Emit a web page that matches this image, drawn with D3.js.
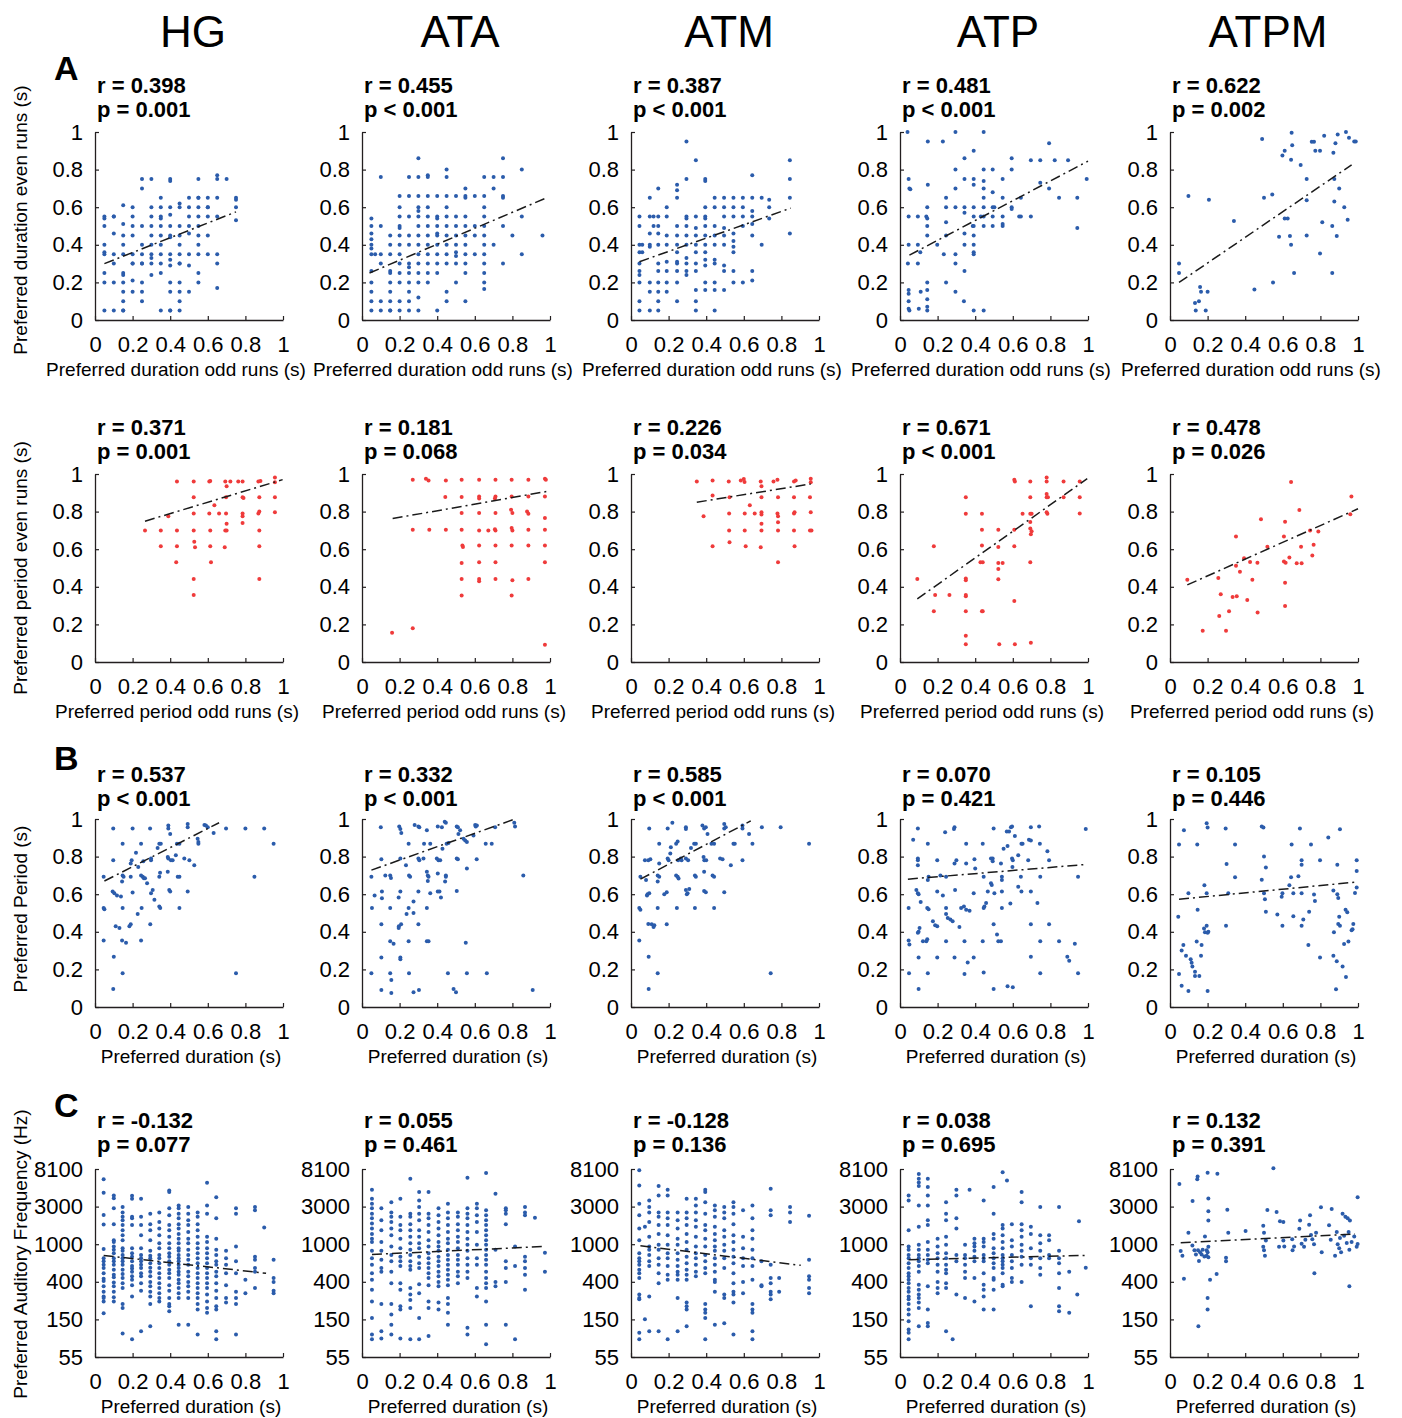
<!DOCTYPE html>
<html>
<head>
<meta charset="utf-8">
<script src="https://cdn.jsdelivr.net/npm/d3@7"></script>
<style>
body { margin: 0; background: #fff; }
text { font-family: Helvetica, Arial, "Liberation Sans", sans-serif; }
</style>
</head>
<body>
<div id="chart"></div>
<script>

/* * * * * * * * * * * * * *
*       Labels / ticks      *
* * * * * * * * * * * * * */

const areas = ["HG", "ATA", "ATM", "ATP", "ATPM"];
const unitTicks = [0, 0.2, 0.4, 0.6, 0.8, 1];
const unitLabels = ["0", "0.2", "0.4", "0.6", "0.8", "1"];
const freqTicks = [55, 149.5, 406.4, 1104.7, 3003.0, 8162.8];
const freqLabels = ["55", "150", "400", "1000", "3000", "8100"];

const rDur = ["0.398", "0.455", "0.387", "0.481", "0.622"];
const pDur = ["= 0.001", "< 0.001", "< 0.001", "< 0.001", "= 0.002"];
const rPer = ["0.371", "0.181", "0.226", "0.671", "0.478"];
const pPer = ["= 0.001", "= 0.068", "= 0.034", "< 0.001", "= 0.026"];
const rPd = ["0.537", "0.332", "0.585", "0.070", "0.105"];
const pPd = ["< 0.001", "< 0.001", "< 0.001", "= 0.421", "= 0.446"];
const rFreq = ["-0.132", "0.055", "-0.128", "0.038", "0.132"];
const pFreq = ["= 0.077", "= 0.461", "= 0.136", "= 0.695", "= 0.391"];

// regression lines: [x start, y start, x end, y end]
const fitDur = [[0.05,0.30,0.75,0.575],[0.04,0.25,0.97,0.645],[0.045,0.31,0.85,0.595],[0.05,0.345,1.0,0.845],[0.048,0.20,0.966,0.825]];
const fitPer = [[0.266,0.749,0.998,0.97],[0.163,0.763,1.0,0.91],[0.35,0.85,0.956,0.947],[0.092,0.336,0.996,0.975],[0.092,0.41,1.0,0.815]];
const fitPd = [[0.05,0.67,0.66,0.98],[0.05,0.728,0.814,1.0],[0.05,0.68,0.637,0.99],[0.042,0.68,0.988,0.758],[0.048,0.573,0.984,0.664]];
const fitFreq = [[0.046,820,0.91,510],[0.053,840,0.973,1040],[0.05,1060,0.903,630],[0.046,730,0.988,820],[0.057,1150,0.984,1450]];

/* * * * * * * * * * * * * *
*   Row A1: duration        *
* * * * * * * * * * * * * */

// columns: [x, [y values]]
const durHG = [
  [0.05,[0.55,0.54,0.5,0.4,0.36,0.35,0.25,0.2,0.05]],
  [0.1,[0.55,0.55,0.46,0.35,0.3,0.2,0.05]],
  [0.15,[0.61,0.51,0.45,0.4,0.35,0.25,0.24,0.2,0.15,0.1,0.05,0.05]],
  [0.2,[0.6,0.55,0.5,0.45,0.35,0.3,0.3,0.21,0.15]],
  [0.25,[0.75,0.7,0.5,0.4,0.35,0.3,0.3,0.2,0.15,0.1]],
  [0.3,[0.75,0.6,0.55,0.5,0.45,0.4,0.35,0.33,0.3,0.24]],
  [0.35,[0.65,0.6,0.55,0.54,0.5,0.45,0.4,0.35,0.3,0.25,0.05]],
  [0.4,[0.75,0.74,0.6,0.56,0.5,0.45,0.44,0.35,0.32,0.29,0.2,0.15,0.05,0.05]],
  [0.45,[0.62,0.6,0.5,0.45,0.4,0.35,0.3,0.3,0.2,0.15,0.1,0.05]],
  [0.5,[0.65,0.6,0.55,0.5,0.46,0.35,0.29,0.15]],
  [0.55,[0.75,0.65,0.65,0.6,0.55,0.5,0.45,0.4,0.35,0.25,0.2]],
  [0.6,[0.65,0.6,0.6,0.55,0.45,0.35]],
  [0.65,[0.77,0.75,0.65,0.55,0.35,0.3,0.17]],
  [0.7,[0.75]],
  [0.75,[0.65,0.64,0.6,0.53]]
];
const durATA = [
  [0.05,[0.54,0.5,0.46,0.43,0.4,0.38,0.35,0.26,0.2,0.15,0.1,0.05]],
  [0.07,[0.35]],
  [0.1,[0.76,0.5,0.35,0.3,0.1,0.05]],
  [0.15,[0.45,0.4,0.35,0.26,0.25,0.2,0.15,0.1,0.05,0.05]],
  [0.2,[0.66,0.6,0.55,0.5,0.49,0.45,0.4,0.35,0.3,0.25,0.2,0.1,0.05]],
  [0.25,[0.76,0.66,0.55,0.45,0.4,0.3,0.28,0.25,0.2,0.15,0.1,0.05]],
  [0.3,[0.86,0.76,0.66,0.6,0.58,0.55,0.5,0.45,0.4,0.35,0.3,0.25,0.2,0.12,0.05]],
  [0.35,[0.77,0.76,0.66,0.6,0.55,0.5,0.45,0.4,0.35,0.3,0.25,0.2]],
  [0.4,[0.66,0.55,0.54,0.5,0.46,0.45,0.4,0.35,0.3,0.25,0.05]],
  [0.45,[0.8,0.76,0.66,0.6,0.55,0.5,0.45,0.4,0.35,0.3,0.15,0.1]],
  [0.5,[0.66,0.55,0.5,0.45,0.4,0.36,0.34,0.3,0.2]],
  [0.55,[0.7,0.66,0.65,0.55,0.5,0.45,0.4,0.35,0.3,0.25,0.1]],
  [0.6,[0.66,0.5,0.45,0.35]],
  [0.65,[0.76,0.66,0.6,0.55,0.5,0.45,0.4,0.35,0.3,0.25,0.2,0.165]],
  [0.7,[0.76,0.7,0.4]],
  [0.75,[0.86,0.76,0.66,0.65,0.5,0.3]],
  [0.8,[0.45]],
  [0.85,[0.8,0.55,0.35]],
  [0.96,[0.45]]
];
const durATM = [
  [0.045,[0.55,0.5,0.4,0.36,0.3,0.26,0.24,0.2,0.1,0.05]],
  [0.06,[0.4,0.36]],
  [0.1,[0.65,0.55,0.46,0.4,0.39,0.2,0.15,0.05]],
  [0.12,[0.55,0.5]],
  [0.145,[0.7,0.55,0.5,0.46,0.4,0.3,0.26,0.2,0.15,0.1,0.05]],
  [0.19,[0.6,0.55,0.45,0.4,0.31,0.26,0.2,0.15]],
  [0.245,[0.72,0.69,0.65,0.5,0.45,0.4,0.36,0.31,0.3,0.26,0.2,0.1]],
  [0.295,[0.95,0.75,0.55,0.54,0.5,0.45,0.4,0.33,0.3,0.26,0.24]],
  [0.345,[0.85,0.55,0.49,0.45,0.4,0.36,0.3,0.26,0.16,0.1,0.05]],
  [0.395,[0.75,0.74,0.6,0.55,0.54,0.5,0.45,0.4,0.36,0.32,0.29,0.2,0.16]],
  [0.445,[0.65,0.6,0.5,0.45,0.4,0.32,0.3,0.2,0.16,0.05]],
  [0.495,[0.65,0.6,0.55,0.49,0.45,0.4,0.29,0.26,0.16]],
  [0.545,[0.65,0.6,0.55,0.46,0.42,0.39,0.36,0.26,0.2]],
  [0.595,[0.65,0.6,0.55,0.5,0.2]],
  [0.645,[0.77,0.65,0.58,0.55,0.51,0.45,0.26,0.21]],
  [0.695,[0.65,0.4]],
  [0.735,[0.64,0.6,0.54]],
  [0.845,[0.85,0.75,0.65,0.46]]
];
// points: [x, y]
const durATP = [
  [0.04,1.0],[0.046,0.75],[0.05,0.7],[0.055,0.695],[0.046,0.55],[0.046,0.4],[0.042,0.3],[0.046,0.16],[0.046,0.14],[0.046,0.1],[0.046,0.06],[0.05,0.05],
  [0.095,0.55],[0.095,0.4],[0.095,0.3],[0.1,0.06],[0.108,0.36],[0.11,0.15],
  [0.148,0.95],[0.148,0.72],[0.145,0.6],[0.14,0.55],[0.145,0.54],[0.145,0.5],[0.145,0.45],[0.145,0.2],[0.145,0.16],[0.145,0.11],[0.145,0.07],[0.145,0.05],
  [0.198,0.4],[0.228,0.95],[0.245,0.65],[0.245,0.6],[0.245,0.2],[0.245,0.52],[0.245,0.45],[0.233,0.35],
  [0.295,1.0],[0.295,0.8],[0.295,0.7],[0.295,0.6],[0.295,0.35],[0.295,0.3],[0.295,0.15],
  [0.343,0.86],[0.343,0.75],[0.343,0.6],[0.343,0.57],[0.343,0.46],[0.343,0.4],[0.343,0.26],[0.34,0.1],
  [0.392,0.9],[0.392,0.75],[0.392,0.72],[0.392,0.6],[0.392,0.55],[0.392,0.5],[0.392,0.45],[0.392,0.4],[0.392,0.36],[0.392,0.35],[0.392,0.05],[0.387,0.5],
  [0.445,1.0],[0.445,0.8],[0.445,0.74],[0.445,0.7],[0.445,0.65],[0.445,0.6],[0.445,0.55],[0.445,0.5],[0.445,0.05],[0.43,0.55],
  [0.493,0.8],[0.493,0.68],[0.493,0.6],[0.493,0.55],[0.493,0.5],[0.502,0.6],
  [0.546,0.75],[0.546,0.65],[0.546,0.55],[0.546,0.51],[0.546,0.5],
  [0.594,0.86],[0.594,0.8],[0.594,0.6],[0.594,0.59],
  [0.643,0.65],[0.643,0.55],[0.634,0.55],
  [0.696,0.85],[0.696,0.55],[0.746,0.85],[0.746,0.73],[0.793,0.94],[0.793,0.7],[0.823,0.85],[0.846,0.65],[0.894,0.85],[0.943,0.65],[0.943,0.49],[0.993,0.75]
];
const durATPM = [
  [0.048,0.30],[0.048,0.25],[0.098,0.66],[0.133,0.09],[0.137,0.05],[0.154,0.10],[0.16,0.175],[0.165,0.15],[0.19,0.05],[0.2,0.15],[0.207,0.64],
  [0.34,0.526],[0.449,0.162],[0.49,0.963],[0.5,0.65],[0.544,0.668],[0.548,0.2],[0.58,0.443],[0.598,0.875],[0.61,0.9],[0.61,0.54],[0.626,0.54],
  [0.638,0.447],[0.644,0.852],[0.647,0.996],[0.65,0.93],[0.644,0.4],[0.66,0.25],[0.695,0.825],[0.727,0.75],[0.727,0.637],[0.727,0.45],
  [0.754,0.948],[0.766,0.948],[0.773,0.9],[0.798,0.9],[0.798,0.354],[0.81,0.52],[0.82,0.98],[0.863,0.5],[0.863,0.25],[0.869,0.89],
  [0.874,0.75],[0.874,0.63],[0.88,0.94],[0.887,0.447],[0.892,0.987],[0.9,0.70],[0.927,0.6],[0.936,1.0],[0.945,0.533],[0.952,0.97],[0.98,0.95],[0.988,0.95]
];

/* * * * * * * * * * * * * *
*   Row A2: period          *
* * * * * * * * * * * * * */

const perHG = [
  [0.266,0.70],[0.35,0.70],[0.35,0.616],[0.39,0.775],[0.436,0.96],[0.436,0.70],[0.436,0.616],[0.432,0.53],[0.525,0.96],[0.525,0.876],
  [0.525,0.79],[0.525,0.70],[0.528,0.64],[0.532,0.61],[0.525,0.442],[0.525,0.356],[0.608,0.96],[0.613,0.963],[0.608,0.79],[0.613,0.70],
  [0.613,0.616],[0.617,0.53],[0.635,0.834],[0.66,0.79],[0.693,0.96],[0.70,0.935],[0.697,0.876],[0.697,0.79],[0.70,0.736],[0.693,0.70],
  [0.70,0.70],[0.69,0.61],[0.72,0.96],[0.762,0.96],[0.785,0.96],[0.785,0.876],[0.79,0.872],[0.785,0.79],[0.785,0.775],[0.785,0.74],
  [0.869,0.96],[0.88,0.963],[0.874,0.876],[0.869,0.79],[0.874,0.80],[0.874,0.70],[0.874,0.616],[0.874,0.442],[0.957,0.982],[0.957,0.956],
  [0.957,0.876],[0.957,0.796]
];
const perATA = [
  [0.16,0.156],[0.27,0.97],[0.27,0.704],[0.27,0.18],[0.34,0.975],[0.354,0.965],[0.358,0.704],[0.446,0.966],[0.446,0.704],[0.443,0.878],
  [0.53,0.97],[0.53,0.878],[0.53,0.793],[0.53,0.704],[0.534,0.62],[0.537,0.612],[0.53,0.527],[0.53,0.442],[0.53,0.354],
  [0.623,0.97],[0.623,0.88],[0.623,0.87],[0.623,0.793],[0.623,0.70],[0.623,0.62],[0.623,0.53],[0.623,0.442],[0.623,0.43],[0.672,0.70],
  [0.71,0.97],[0.71,0.88],[0.707,0.87],[0.71,0.793],[0.71,0.70],[0.707,0.706],[0.71,0.62],[0.71,0.53],[0.71,0.442],
  [0.796,0.97],[0.796,0.88],[0.80,0.793],[0.793,0.81],[0.796,0.713],[0.80,0.70],[0.796,0.62],[0.80,0.435],[0.796,0.354],
  [0.885,0.97],[0.885,0.88],[0.878,0.80],[0.885,0.788],[0.885,0.704],[0.885,0.62],[0.885,0.442],
  [0.973,0.975],[0.978,0.97],[0.973,0.88],[0.973,0.766],[0.973,0.704],[0.973,0.62],[0.973,0.53],[0.973,0.092]
];
const perATM = [
  [0.35,0.96],[0.386,0.775],[0.434,0.965],[0.434,0.885],[0.434,0.616],[0.52,0.96],[0.524,0.876],[0.522,0.79],[0.522,0.70],[0.524,0.637],
  [0.584,0.965],[0.60,0.973],[0.604,0.957],[0.605,0.79],[0.605,0.70],[0.61,0.616],[0.632,0.834],[0.658,0.79],[0.69,0.96],[0.694,0.876],
  [0.694,0.935],[0.694,0.796],[0.694,0.784],[0.694,0.736],[0.694,0.70],[0.69,0.61],[0.758,0.96],[0.779,0.97],[0.782,0.876],[0.779,0.79],
  [0.782,0.775],[0.782,0.743],[0.782,0.70],[0.782,0.53],[0.867,0.96],[0.876,0.965],[0.867,0.876],[0.867,0.79],[0.87,0.796],[0.867,0.70],
  [0.87,0.616],[0.956,0.975],[0.956,0.956],[0.952,0.876],[0.956,0.796],[0.952,0.70],[0.96,0.70]
];
const perATP = [
  [0.092,0.442],[0.18,0.616],[0.18,0.27],[0.187,0.356],[0.263,0.356],[0.35,0.876],[0.35,0.788],[0.35,0.444],[0.35,0.435],[0.35,0.356],
  [0.35,0.35],[0.35,0.27],[0.35,0.14],[0.35,0.094],[0.436,0.788],[0.436,0.704],[0.436,0.62],[0.428,0.53],[0.44,0.53],[0.436,0.27],
  [0.44,0.27],[0.523,0.704],[0.523,0.612],[0.523,0.527],[0.546,0.527],[0.523,0.495],[0.523,0.44],[0.528,0.094],[0.608,0.97],[0.611,0.96],
  [0.608,0.704],[0.608,0.616],[0.608,0.324],[0.611,0.094],[0.652,0.788],[0.693,0.96],[0.693,0.876],[0.693,0.788],[0.70,0.788],[0.693,0.745],
  [0.693,0.71],[0.70,0.696],[0.696,0.68],[0.693,0.53],[0.696,0.103],[0.78,0.982],[0.78,0.96],[0.78,0.894],[0.78,0.876],[0.784,0.788],
  [0.78,0.796],[0.787,0.876],[0.87,0.96],[0.87,0.876],[0.956,0.96],[0.956,0.876],[0.956,0.79]
];
const perATPM = [
  [0.092,0.438],[0.174,0.166],[0.257,0.447],[0.262,0.245],[0.27,0.36],[0.298,0.166],[0.314,0.27],[0.333,0.346],[0.351,0.668],[0.351,0.512],
  [0.355,0.35],[0.372,0.48],[0.394,0.552],[0.411,0.33],[0.426,0.532],[0.438,0.438],[0.465,0.528],[0.466,0.263],[0.484,0.759],[0.518,0.613],
  [0.606,0.667],[0.612,0.746],[0.606,0.534],[0.615,0.528],[0.612,0.422],[0.612,0.298],[0.635,0.556],[0.644,0.958],[0.674,0.525],[0.688,0.808],
  [0.697,0.613],[0.70,0.525],[0.745,0.70],[0.757,0.567],[0.764,0.624],[0.789,0.694],[0.959,0.786],[0.965,0.88]
];

/* * * * * * * * * * * * * *
*   Row B: period vs dur    *
* * * * * * * * * * * * * */

const pdHG = [
  [0.046,0.693],[0.046,0.526],[0.05,0.52],[0.046,0.354],[0.097,0.95],[0.097,0.78],[0.094,0.614],[0.103,0.605],[0.1,0.267],[0.097,0.096],
  [0.117,0.593],[0.11,0.43],[0.13,0.42],[0.138,0.588],[0.147,0.868],[0.147,0.70],[0.152,0.693],[0.144,0.667],[0.147,0.526],[0.144,0.354],
  [0.147,0.18],[0.165,0.342],[0.183,0.43],[0.19,0.44],[0.195,0.78],[0.19,0.763],[0.2,0.95],[0.2,0.609],[0.19,0.693],[0.218,0.82],
  [0.227,0.495],[0.23,0.745],[0.245,0.868],[0.245,0.70],[0.254,0.693],[0.26,0.685],[0.266,0.685],[0.248,0.526],[0.245,0.354],[0.257,0.775],
  [0.277,0.658],[0.293,0.95],[0.298,0.79],[0.298,0.78],[0.298,0.605],[0.294,0.44],[0.307,0.623],[0.316,0.57],[0.333,0.846],[0.342,0.693],
  [0.342,0.868],[0.35,0.868],[0.342,0.535],[0.347,0.526],[0.346,0.714],[0.387,0.72],[0.39,0.965],[0.39,0.95],[0.4,0.92],[0.387,0.798],
  [0.39,0.79],[0.404,0.78],[0.413,0.78],[0.395,0.623],[0.4,0.614],[0.43,0.807],[0.436,0.868],[0.449,0.868],[0.44,0.693],[0.449,0.693],
  [0.449,0.526],[0.475,0.79],[0.493,0.974],[0.493,0.956],[0.502,0.78],[0.493,0.614],[0.528,0.754],[0.546,0.895],[0.55,0.877],[0.55,0.868],
  [0.582,0.968],[0.59,0.965],[0.6,0.956],[0.631,0.926],[0.697,0.95],[0.75,0.18],[0.8,0.95],[0.848,0.693],[0.9,0.95],[0.95,0.868]
];
const pdATA = [
  [0.05,0.693],[0.053,0.526],[0.067,0.593],[0.1,0.956],[0.103,0.786],[0.106,0.614],[0.106,0.579],[0.103,0.44],[0.103,0.263],[0.05,0.179],
  [0.103,0.091],[0.124,0.70],[0.15,0.70],[0.154,0.686],[0.15,0.526],[0.15,0.35],[0.168,0.337],[0.15,0.179],[0.156,0.144],[0.156,0.075],
  [0.195,0.582],[0.198,0.96],[0.204,0.947],[0.209,0.926],[0.204,0.79],[0.204,0.614],[0.196,0.43],[0.208,0.44],[0.195,0.42],[0.204,0.263],
  [0.204,0.254],[0.234,0.754],[0.237,0.495],[0.248,0.868],[0.25,0.70],[0.256,0.693],[0.248,0.526],[0.248,0.35],[0.25,0.179],[0.274,0.561],
  [0.274,0.5],[0.274,0.079],[0.28,0.968],[0.30,0.96],[0.305,0.956],[0.30,0.79],[0.305,0.78],[0.30,0.614],[0.30,0.44],[0.303,0.091],
  [0.327,0.79],[0.33,0.868],[0.345,0.72],[0.35,0.70],[0.354,0.693],[0.345,0.94],[0.345,0.526],[0.345,0.35],[0.354,0.35],[0.35,0.67],
  [0.363,0.605],[0.363,0.868],[0.403,0.96],[0.398,0.79],[0.407,0.78],[0.416,0.78],[0.403,0.71],[0.403,0.614],[0.412,0.614],[0.42,0.582],
  [0.425,0.956],[0.428,0.842],[0.44,0.986],[0.446,0.98],[0.45,0.868],[0.46,0.872],[0.446,0.70],[0.446,0.693],[0.442,0.667],[0.457,0.179],
  [0.487,0.096],[0.5,0.079],[0.504,0.96],[0.51,0.956],[0.522,0.94],[0.504,0.79],[0.51,0.786],[0.504,0.617],[0.513,0.92],[0.54,0.895],
  [0.549,0.886],[0.558,0.877],[0.558,0.737],[0.552,0.342],[0.558,0.179],[0.593,0.912],[0.602,0.968],[0.605,0.96],[0.611,0.965],[0.61,0.786],
  [0.658,0.868],[0.664,0.179],[0.69,0.868],[0.708,0.956],[0.81,0.98],[0.814,0.96],[0.858,0.70],[0.908,0.091]
];
const pdATM = [
  [0.044,0.526],[0.05,0.517],[0.044,0.354],[0.05,0.693],[0.08,0.675],[0.074,0.78],[0.092,0.78],[0.103,0.786],[0.088,0.6],[0.097,0.605],
  [0.085,0.593],[0.092,0.442],[0.11,0.44],[0.12,0.425],[0.124,0.435],[0.094,0.267],[0.094,0.096],[0.097,0.95],[0.142,0.70],[0.15,0.693],
  [0.142,0.667],[0.142,0.526],[0.142,0.18],[0.15,0.763],[0.15,0.868],[0.177,0.6],[0.19,0.44],[0.19,0.61],[0.195,0.79],[0.2,0.78],
  [0.195,0.95],[0.209,0.816],[0.22,0.98],[0.212,0.85],[0.24,0.868],[0.248,0.88],[0.24,0.70],[0.248,0.693],[0.253,0.684],[0.244,0.526],
  [0.251,0.78],[0.265,0.79],[0.269,0.78],[0.292,0.956],[0.292,0.947],[0.292,0.79],[0.304,0.78],[0.292,0.623],[0.301,0.605],[0.297,0.6],
  [0.31,0.628],[0.319,0.846],[0.336,0.868],[0.345,0.868],[0.34,0.70],[0.345,0.693],[0.34,0.526],[0.38,0.965],[0.389,0.95],[0.398,0.956],
  [0.386,0.798],[0.39,0.78],[0.4,0.78],[0.407,0.92],[0.389,0.72],[0.389,0.617],[0.398,0.61],[0.428,0.868],[0.442,0.868],[0.434,0.70],
  [0.442,0.693],[0.442,0.526],[0.474,0.79],[0.487,0.786],[0.496,0.974],[0.496,0.95],[0.504,0.956],[0.496,0.61],[0.531,0.754],[0.545,0.868],
  [0.552,0.868],[0.593,0.965],[0.593,0.95],[0.593,0.78],[0.628,0.92],[0.646,0.868],[0.696,0.956],[0.743,0.18],[0.796,0.956],[0.947,0.868]
];
const pdATP = [
  [0.046,0.354],[0.05,0.333],[0.046,0.526],[0.048,0.18],[0.095,0.95],[0.07,0.89],[0.095,0.79],[0.095,0.78],[0.095,0.754],[0.087,0.623],
  [0.095,0.605],[0.099,0.6],[0.099,0.40],[0.095,0.395],[0.104,0.42],[0.099,0.263],[0.099,0.096],[0.11,0.558],[0.122,0.35],[0.14,0.35],
  [0.145,0.36],[0.148,0.868],[0.152,0.693],[0.148,0.675],[0.145,0.526],[0.152,0.52],[0.148,0.18],[0.175,0.456],[0.187,0.435],[0.198,0.43],
  [0.198,0.78],[0.198,0.614],[0.198,0.263],[0.215,0.70],[0.228,0.593],[0.24,0.93],[0.245,0.526],[0.245,0.495],[0.245,0.35],[0.245,0.693],
  [0.254,0.474],[0.268,0.465],[0.28,0.456],[0.29,0.956],[0.287,0.947],[0.29,0.763],[0.3,0.78],[0.293,0.623],[0.29,0.263],[0.316,0.425],
  [0.325,0.526],[0.34,0.535],[0.352,0.868],[0.352,0.763],[0.343,0.35],[0.343,0.175],[0.36,0.237],[0.352,0.517],[0.37,0.512],[0.392,0.605],
  [0.396,0.786],[0.4,0.737],[0.392,0.263],[0.44,0.868],[0.445,0.693],[0.445,0.526],[0.449,0.535],[0.44,0.35],[0.445,0.184],[0.458,0.553],
  [0.467,0.614],[0.484,0.79],[0.493,0.79],[0.493,0.775],[0.484,0.658],[0.488,0.649],[0.498,0.44],[0.498,0.096],[0.498,0.95],[0.502,0.605],
  [0.516,0.386],[0.523,0.35],[0.537,0.35],[0.537,0.763],[0.542,0.693],[0.542,0.675],[0.542,0.526],[0.542,0.614],[0.551,0.842],[0.568,0.933],
  [0.572,0.856],[0.58,0.933],[0.587,0.55],[0.59,0.956],[0.596,0.96],[0.596,0.79],[0.6,0.78],[0.598,0.745],[0.572,0.11],[0.6,0.105],
  [0.611,0.91],[0.629,0.807],[0.629,0.64],[0.643,0.693],[0.646,0.868],[0.646,0.614],[0.652,0.868],[0.682,0.78],[0.686,0.89],[0.696,0.886],
  [0.696,0.956],[0.696,0.614],[0.696,0.44],[0.696,0.267],[0.731,0.553],[0.74,0.96],[0.744,0.868],[0.746,0.693],[0.746,0.35],[0.746,0.18],
  [0.784,0.828],[0.793,0.78],[0.793,0.44],[0.846,0.35],[0.89,0.267],[0.9,0.246],[0.93,0.337],[0.947,0.693],[0.947,0.18],[0.988,0.947]
];
const pdATPM = [
  [0.048,0.865],[0.074,0.94],[0.044,0.48],[0.048,0.175],[0.062,0.113],[0.062,0.30],[0.071,0.33],[0.085,0.273],[0.098,0.605],[0.098,0.085],
  [0.11,0.254],[0.115,0.235],[0.119,0.216],[0.133,0.188],[0.133,0.165],[0.142,0.348],[0.145,0.865],[0.147,0.517],[0.156,0.165],[0.165,0.273],
  [0.168,0.33],[0.183,0.648],[0.181,0.417],[0.186,0.398],[0.195,0.605],[0.195,0.977],[0.2,0.955],[0.195,0.432],[0.2,0.395],[0.204,0.40],
  [0.2,0.085],[0.296,0.95],[0.301,0.76],[0.31,0.605],[0.298,0.432],[0.346,0.865],[0.346,0.69],[0.488,0.96],[0.497,0.955],[0.5,0.80],
  [0.51,0.742],[0.488,0.677],[0.5,0.605],[0.505,0.573],[0.51,0.507],[0.571,0.492],[0.594,0.586],[0.598,0.605],[0.598,0.432],[0.635,0.648],
  [0.644,0.69],[0.647,0.865],[0.656,0.605],[0.656,0.483],[0.683,0.695],[0.691,0.95],[0.7,0.78],[0.7,0.756],[0.7,0.605],[0.7,0.432],
  [0.709,0.466],[0.736,0.33],[0.74,0.507],[0.75,0.865],[0.766,0.598],[0.771,0.564],[0.798,0.78],[0.798,0.263],[0.842,0.902],[0.869,0.62],
  [0.869,0.273],[0.872,0.398],[0.883,0.094],[0.887,0.244],[0.89,0.756],[0.89,0.60],[0.895,0.58],[0.895,0.442],[0.9,0.48],[0.904,0.945],
  [0.904,0.432],[0.918,0.216],[0.926,0.335],[0.934,0.517],[0.936,0.16],[0.943,0.504],[0.949,0.348],[0.966,0.408],[0.971,0.413],[0.975,0.442],
  [0.984,0.607],[0.993,0.724],[0.993,0.78],[0.993,0.635]
];

/* * * * * * * * * * * * * *
*   Row C: frequency (Hz)   *
* * * * * * * * * * * * * */

const freqHG = [
  [0.046,[6200,4350,2400,1870,970,760,700,640,585,510,440,415,360,312,275,265,241,176]],
  [0.1,[4040,3760,2870,1880,1230,1170,1040,950,870,760,700,640,560,490,460,400,360,312,270,241]],
  [0.147,[2980,2560,2300,2090,1840,1600,1400,1230,990,930,830,760,700,640,560,500,450,390,345,225,202,103]],
  [0.197,[4000,3690,2300,2200,1840,990,870,790,700,620,580,530,470,430,370,275,88]],
  [0.245,[3690,2300,1840,1400,990,830,760,700,640,585,510,470,390,320,109]],
  [0.294,[2480,1880,1600,1230,930,810,760,665,590,530,470,405,360,312,275,225,125]],
  [0.342,[2560,1990,1680,1400,1130,990,830,760,665,585,510,450,390,345,300,265,241]],
  [0.395,[4620,4420,2870,2390,1840,1600,1350,1130,990,870,790,700,640,560,510,450,370,320,265,225,212,186]],
  [0.445,[3100,2870,2480,2200,1880,1680,1450,1280,1130,990,930,830,760,700,640,585,530,490,430,390,345,300,265,130]],
  [0.496,[2980,2480,2090,1840,1530,1280,1130,950,830,730,640,530,470,405,360,312,265,130]],
  [0.546,[2560,2300,1880,1600,1350,1130,990,870,760,665,585,510,450,390,345,300,265,225,194,100]],
  [0.596,[5680,3100,2480,1350,1170,990,870,760,665,585,510,450,390,345,290,241,202,178]],
  [0.645,[3860,2200,1280,950,830,700,640,530,470,390,320,265,212,194,109,88]],
  [0.697,[930,760,640,510,370,265,235]],
  [0.75,[2870,2480,1040,700,510,312,265,225,100]],
  [0.8,[430,300]],
  [0.851,[2980,2720,790,730,585,530,345]],
  [0.9,[1720]],
  [0.95,[730,450,405,320,300]]
];
const freqATA = [
  [0.053,[4700,3690,3240,2870,2480,2200,1920,1680,1450,1280,1170,930,760,640,510,430,330,241,155,100,88]],
  [0.103,[2870,2090,1600,1170,930,730,585,530,225,109,90]],
  [0.156,[3380,2560,2300,1990,1680,1400,1040,830,700,530,390,225,170,130,100]],
  [0.204,[3690,2300,1840,1600,1280,990,790,700,620,390,330,212,194,90]],
  [0.257,[6290,2480,2300,1880,1600,1350,1130,950,830,700,620,560,345,290,250,202,88]],
  [0.304,[4420,3530,2980,2480,2090,1600,1350,1130,990,790,665,585,380,300,155,88]],
  [0.354,[4420,2480,2200,1840,1530,1230,1040,870,760,665,585,510,450,370,241,202,96]],
  [0.407,[2870,2390,1990,1680,1400,1170,1040,930,790,700,620,530,470,405,360,235,194]],
  [0.457,[3240,2560,2200,1840,1530,1280,1130,950,830,730,640,560,490,430,370,265,225,178,130]],
  [0.51,[2560,2300,1880,1600,1350,1170,990,830,730,640,530,470,390]],
  [0.561,[6480,2870,2480,2200,1840,1530,1280,1090,930,760,640,530,450,120,100]],
  [0.611,[3240,2870,2390,1990,1530,1090,760,640,345,275]],
  [0.66,[7350,2720,2390,2090,1840,1600,1400,1230,1090,950,830,730,640,530,450,390,345,241,130,77]],
  [0.71,[4240,950,405,360]],
  [0.765,[2870,2720,2480,1880,700,585,405,130]],
  [0.814,[1040,620,88]],
  [0.867,[2980,2560,2390,790,700,585,490,330]],
  [0.92,[2230]],
  [0.973,[880,530]]
];
const freqATM = [
  [0.044,[7900,5270,3240,2390,1680,1230,870,760,700,640,560,510,450,290,265,255,105,88]],
  [0.074,[1760,150]],
  [0.097,[3530,2980,2560,1990,1350,1040,950,830,700,620,275,109]],
  [0.147,[5180,4040,2560,2300,1840,1450,1090,950,760,640,510,390,109]],
  [0.195,[4700,4040,2560,2200,1840,1400,1090,870,760,620,490,430,88]],
  [0.248,[2560,2090,1680,1280,1090,870,730,620,530,490,430,265,109]],
  [0.296,[3690,2560,2200,1840,1450,1170,950,790,665,560,490,430,235,212,194,125]],
  [0.345,[3690,3100,2560,2090,1760,1350,1040,870,760,640,530,470]],
  [0.395,[4700,4420,3380,2480,1840,1600,1280,1040,830,700,585,510,225,194,178,155,88]],
  [0.446,[3100,2720,2300,1760,1450,1230,1040,930,760,640,530,430,405,312,130]],
  [0.496,[2980,2560,2200,1600,1350,1090,930,760,585,290,265,135]],
  [0.545,[3380,2980,2480,1880,1400,1170,950,790,665,510,390,312,290,235,100]],
  [0.596,[2720,1350,990,760,620,405,300]],
  [0.646,[3100,2200,1600,1280,950,760,620,430,225,194,178,109,88]],
  [0.694,[700,370,360]],
  [0.743,[4840,2720,2390,640,450,390,312,290,255]],
  [0.788,[450,312]],
  [0.846,[2980,2560,1990]],
  [0.947,[2350,730,470,430,345,300]]
];
const freqATP = [
  [0.046,[4040,3530,1600,1040,950,830,760,665,585,510,470,430,390,345,312,275,255,225,194,170,142,114,105,88]],
  [0.1,[7170,6290,5700,5180,3100,1760,1090,950,830,760,700,620,530,375,330,290,265,235,202,125]],
  [0.148,[6290,5060,4040,3100,2090,1840,1170,950,830,730,665,360,194,136,125]],
  [0.2,[1280,1040,870,760,640,530,405,345,300]],
  [0.245,[3380,2480,2090,1350,1090,870,760,640,560,510,390,345,109]],
  [0.28,[88]],
  [0.3,[4700,4040,2200,1680,830,700,290]],
  [0.346,[1090,830,760,640,530,450,265]],
  [0.37,[4700]],
  [0.396,[1280,1130,1040,930,790,700,450,241]],
  [0.445,[3530,1280,1170,1040,830,760,700,510,375,330,275,194]],
  [0.498,[5060,2480,1450,1280,990,870,760,665,585,450,430,330,194]],
  [0.546,[7500,1840,1680,1400,1170,990,830,760,700,640,585,510,375,360]],
  [0.569,[6000]],
  [0.595,[1880,1230,1040,830,700,585,450,405]],
  [0.647,[4420,3380,1880,1600,1350,1090,930,790,640,405]],
  [0.696,[1760,1450,990,760,640,212]],
  [0.746,[2980,1400,1130,930,760,585,490]],
  [0.793,[1400,1230,830,760]],
  [0.846,[2980,930,760,665,510,345,212,186]],
  [0.9,[530,178]],
  [0.943,[290]],
  [0.952,[2030]],
  [0.988,[590]]
];
const freqATPM = [
  [0.05,5480],[0.057,925],[0.066,815],[0.074,440],[0.098,1500],[0.12,3490],[0.119,1070],[0.13,940],[0.138,840],[0.145,6200],
  [0.147,6700],[0.149,940],[0.154,705],[0.151,125],[0.16,890],[0.168,840],[0.174,950],[0.183,795],[0.186,1360],[0.195,940],
  [0.195,815],[0.2,7380],[0.204,3720],[0.204,2650],[0.204,2070],[0.204,1030],[0.2,890],[0.204,780],[0.2,265],[0.2,194],
  [0.213,430],[0.252,7200],[0.248,500],[0.305,2770],[0.31,1500],[0.298,770],[0.298,700],[0.402,1570],[0.496,1800],[0.5,1500],
  [0.51,1220],[0.496,1030],[0.5,940],[0.505,815],[0.518,2740],[0.55,8320],[0.567,2600],[0.58,1030],[0.585,2030],[0.603,2000],
  [0.603,1220],[0.608,1040],[0.65,1260],[0.652,940],[0.66,1040],[0.692,2070],[0.688,1670],[0.7,1120],[0.713,1030],[0.72,1240],
  [0.74,1850],[0.745,2390],[0.75,1410],[0.757,1260],[0.766,1100],[0.768,510],[0.777,1500],[0.803,2950],[0.807,890],[0.846,1830],
  [0.855,1240],[0.86,2820],[0.878,815],[0.887,1530],[0.892,1100],[0.9,990],[0.904,1300],[0.91,890],[0.918,2490],[0.926,1380],
  [0.933,2300],[0.94,1140],[0.945,2200],[0.95,1530],[0.954,950],[0.954,360],[0.957,2070],[0.966,1170],[0.98,1360],[0.993,1030],
  [0.998,3860],[0.998,1110]
];


/* * * * * * * * * * * * * *
*         Layout            *
* * * * * * * * * * * * * */

const panelLeft = [95, 362, 631, 900, 1170];
const panelTop = [132, 474, 819, 1169];
const side = 188;
const blue = '#2b5cab';
const red = '#ef3b3b';
const ink = '#231f20';

function fromCols(cols) {
    return cols.flatMap(([x, ys]) => ys.map(y => [x, y]));
}

const svg = d3.select('#chart').append('svg')
    .attr('width', 1402)
    .attr('height', 1418)
    .style('background', '#fff');

const xScale = d3.scaleLinear().domain([0, 1]).range([0, side]);
const yLin = d3.scaleLinear().domain([0, 1]).range([side, 0]);
const yLog = d3.scaleLog().domain([freqTicks[0], freqTicks[5]]).range([side, 0]);

const rows = [
    {sets: [fromCols(durHG), fromCols(durATA), fromCols(durATM), durATP, durATPM], fits: fitDur, r: rDur, p: pDur,
     color: blue, y: yLin, yTicks: unitTicks, yLabels: unitLabels,
     xTitle: 'Preferred duration odd runs (s)', yTitle: 'Preferred duration even runs (s)', yTitleMid: 220,
     rOff: -39, pOff: -15, titleShift: -13},
    {sets: [perHG, perATA, perATM, perATP, perATPM], fits: fitPer, r: rPer, p: pPer,
     color: red, y: yLin, yTicks: unitTicks, yLabels: unitLabels,
     xTitle: 'Preferred period odd runs (s)', yTitle: 'Preferred period even runs (s)', yTitleMid: 568,
     rOff: -39, pOff: -15, titleShift: -12},
    {sets: [pdHG, pdATA, pdATM, pdATP, pdATPM], fits: fitPd, r: rPd, p: pPd,
     color: blue, y: yLin, yTicks: unitTicks, yLabels: unitLabels,
     xTitle: 'Preferred duration (s)', yTitle: 'Preferred Period (s)', yTitleMid: 909,
     rOff: -37, pOff: -13, titleShift: 2},
    {sets: [fromCols(freqHG), fromCols(freqATA), fromCols(freqATM), fromCols(freqATP), freqATPM], fits: fitFreq, r: rFreq, p: pFreq,
     color: blue, y: yLog, yTicks: freqTicks, yLabels: freqLabels,
     xTitle: 'Preferred duration (s)', yTitle: 'Preferred Auditory Frequency (Hz)', yTitleMid: 1254,
     rOff: -41, pOff: -17, titleShift: 2}
];

function styleAxis(a) {
    a.attr('font-family', null).attr('font-size', null);
    a.select('.domain').attr('stroke', ink).attr('stroke-width', 1.3);
    a.selectAll('.tick line').attr('stroke', ink).attr('stroke-width', 1.2);
    a.selectAll('.tick text').attr('fill', '#000').style('font-size', '22px');
}

// column titles
areas.forEach((name, i) => {
    svg.append('text')
        .attr('x', panelLeft[i] + side / 2 + 4)
        .attr('y', 47)
        .attr('text-anchor', 'middle')
        .style('font-size', '44px')
        .text(name);
});

// panel letters
[['A', 80], ['B', 770], ['C', 1117]].forEach(([l, y]) => {
    svg.append('text')
        .attr('x', 54).attr('y', y)
        .style('font-size', '34px').style('font-weight', 'bold')
        .text(l);
});

rows.forEach((row, ri) => {
    // y axis title
    svg.append('text')
        .attr('transform', `translate(27,${row.yTitleMid}) rotate(-90)`)
        .attr('text-anchor', 'middle')
        .style('font-size', '19px')
        .text(row.yTitle);

    row.sets.forEach((pts, ci) => {
        const g = svg.append('g')
            .attr('transform', `translate(${panelLeft[ci]},${panelTop[ri]})`);

        const xa = g.append('g')
            .attr('transform', `translate(0,${side})`)
            .call(d3.axisBottom(xScale).tickValues(unitTicks).tickFormat((d, i) => unitLabels[i])
                .tickSizeInner(-4).tickSizeOuter(0).tickPadding(16));
        styleAxis(xa);

        const ya = g.append('g')
            .call(d3.axisLeft(row.y).tickValues(row.yTicks).tickFormat((d, i) => row.yLabels[i])
                .tickSizeInner(-4).tickSizeOuter(0).tickPadding(12));
        styleAxis(ya);

        // points
        g.append('g')
            .selectAll('circle')
            .data(pts)
            .join('circle')
            .attr('cx', d => xScale(d[0]))
            .attr('cy', d => row.y(d[1]))
            .attr('r', 2)
            .attr('fill', row.color);

        // regression line
        const f = row.fits[ci];
        g.append('line')
            .attr('x1', xScale(f[0])).attr('y1', row.y(f[1]))
            .attr('x2', xScale(f[2])).attr('y2', row.y(f[3]))
            .attr('stroke', '#1a1a1a')
            .attr('stroke-width', 1.5)
            .attr('stroke-dasharray', '10,4,2,4');

        // stats
        svg.append('text')
            .attr('x', panelLeft[ci] + 2).attr('y', panelTop[ri] + row.rOff)
            .style('font-size', '22px').style('font-weight', 'bold')
            .text('r = ' + row.r[ci]);
        svg.append('text')
            .attr('x', panelLeft[ci] + 2).attr('y', panelTop[ri] + row.pOff)
            .style('font-size', '22px').style('font-weight', 'bold')
            .text('p ' + row.p[ci]);

        // x axis title
        svg.append('text')
            .attr('x', panelLeft[ci] + side / 2 + row.titleShift)
            .attr('y', panelTop[ri] + side + 56)
            .attr('text-anchor', 'middle')
            .style('font-size', '19px')
            .text(row.xTitle);
    });
});

</script>
</body>
</html>
